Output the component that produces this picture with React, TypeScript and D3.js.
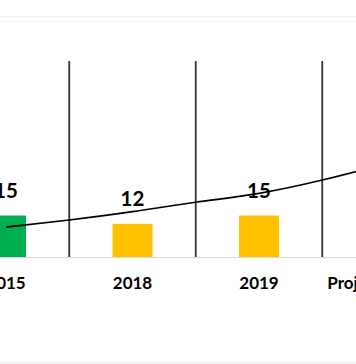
import React from "react";
import * as d3 from "d3";

const categories = ["2015", "2018", "2019", "Projected 2020"];
const values = [15, 12, 15, 30];
const barColors = ["#00B050", "#FFC000", "#FFC000", "#FFC000"];
// trend line values read at category positions and halfway between them
const trendPositions = [0, 0.5, 1, 1.5, 2, 2.5, 3];
const trendValues = [10.8, 13.4, 16.4, 19.8, 23.0, 27.8, 33.6];

const W = 356;
const H = 364;

export default function App() {
  const x = d3.scalePoint<string>().domain(categories).range([6, 385.5]);
  const step = x.step();
  const xi = d3.scaleLinear().domain([0, categories.length - 1]).range([6, 385.5]);
  const y = d3.scaleLinear().domain([0, 15]).range([257, 215.5]);
  const barW = 40;
  const line = d3
    .line<number>()
    .x((_, i) => xi(trendPositions[i]))
    .y((d) => y(d))
    .curve(d3.curveNatural);
  const font = "Lato, 'Open Sans', sans-serif";

  return (
    <svg
      width={W}
      height={H}
      style={{ position: "absolute", left: 0, top: 0, background: "#fff" }}
    >
      <line x1={0} x2={W} y1={16.5} y2={16.5} stroke="#f0f0f0" strokeWidth={1} />
      <line x1={0} x2={W} y1={21.5} y2={21.5} stroke="#f6f6f6" strokeWidth={1} />
      <line x1={0} x2={W} y1={363} y2={363} stroke="#e6e6e6" strokeWidth={1} />
      {categories.slice(0, -1).map((c) => (
        <line
          key={"v" + c}
          x1={(x(c) as number) + step / 2}
          x2={(x(c) as number) + step / 2}
          y1={61}
          y2={y(0)}
          stroke="#333"
          strokeWidth={1.8}
        />
      ))}
      {categories.map((c, i) => (
        <rect
          key={"b" + c}
          x={(x(c) as number) - barW / 2}
          y={y(values[i])}
          width={barW}
          height={y(0) - y(values[i])}
          fill={barColors[i]}
        />
      ))}
      <line x1={0} x2={W} y1={y(0) + 0.5} y2={y(0) + 0.5} stroke="#d9d9d9" strokeWidth={1} />
      <path d={line(trendValues) || ""} fill="none" stroke="#000" strokeWidth={1.6} />
      {categories.map((c, i) =>
        (x(c) as number) > W ? null : (
          <text
            key={"l" + c}
            x={x(c)}
            y={y(values[i]) - 17.5}
            textAnchor="middle"
            fontFamily={font}
            fontWeight="bold"
            fontSize={20.5}
            fill="#000"
          >
            {values[i]}
          </text>
        )
      )}
      {categories.map((c) => (
        <text
          key={"c" + c}
          x={x(c)}
          y={289}
          textAnchor="middle"
          fontFamily={font}
          fontWeight="bold"
          fontSize={17}
          fill="#000"
        >
          {c}
        </text>
      ))}
    </svg>
  );
}
